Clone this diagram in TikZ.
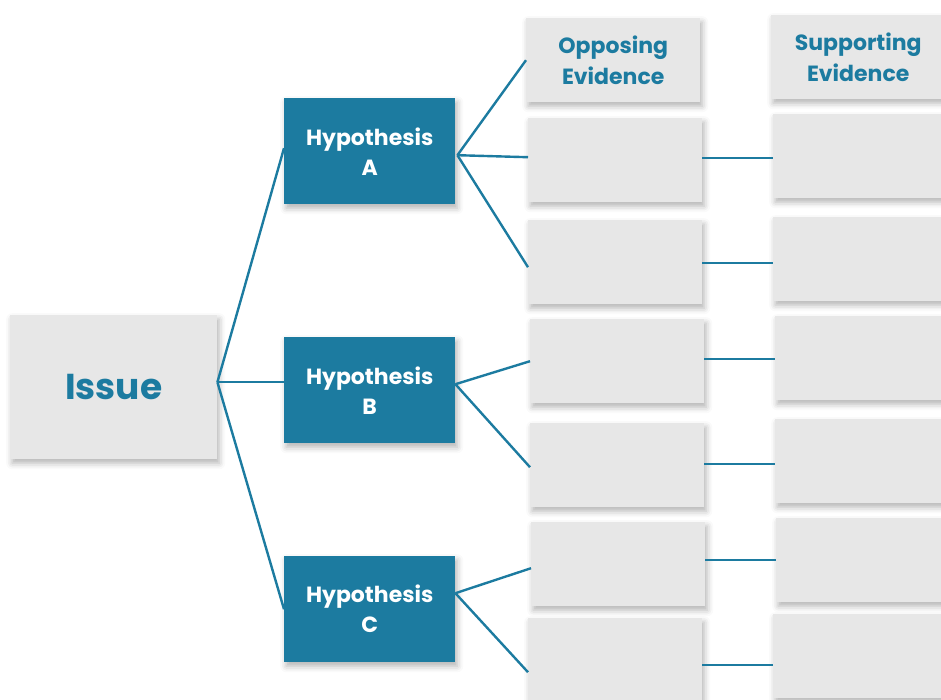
\documentclass[tikz,border=0pt]{standalone}
\usepackage{fontspec}
\setmainfont{Poppins}
\usetikzlibrary{shadows.blur}
\definecolor{brandteal}{HTML}{1C7BA0}
\definecolor{boxgray}{HTML}{E7E7E7}
\tikzset{
  softshadow/.style={blur shadow={shadow xshift=2pt, shadow yshift=-4pt, shadow blur radius=6pt, shadow opacity=30}},
  graybox/.style={fill=boxgray, softshadow, draw=none, inner sep=0pt, anchor=north west,
    minimum width=174pt, minimum height=84pt, text=brandteal, align=center,
    font=\bfseries\fontsize{22}{31}\selectfont},
  hypbox/.style={fill=brandteal, softshadow, draw=none, inner sep=0pt, anchor=north west,
    minimum width=171pt, minimum height=106pt, text=white, align=center,
    font=\bfseries\fontsize{22}{30}\selectfont},
  issuebox/.style={graybox, minimum width=207pt, minimum height=144pt,
    font=\bfseries\fontsize{36}{44}\selectfont},
  link/.style={draw=brandteal, line width=2.4pt}
}
\begin{document}
\begin{tikzpicture}[x=1pt, y=-1pt]
  \useasboundingbox (0,0) rectangle (941,699);

  % root issue
  \node[issuebox] (issue) at (10,315) {Issue};

  % hypotheses
  \node[hypbox] (hA) at (284,98)  {Hypothesis\\A};
  \node[hypbox] (hB) at (284,337) {Hypothesis\\B};
  \node[hypbox] (hC) at (284,556) {Hypothesis\\C};

  % column headers
  \node[graybox] (oHead) at (526,18) {Opposing\\Evidence};
  \node[graybox] (sHead) at (771,15) {Supporting\\Evidence};

  % opposing evidence boxes
  \node[graybox] (oA1) at (528,118) {};
  \node[graybox] (oA2) at (528,220) {};
  \node[graybox] (oB1) at (530,319) {};
  \node[graybox] (oB2) at (530,423) {};
  \node[graybox] (oC1) at (531,522) {};
  \node[graybox] (oC2) at (528,618) {};

  % supporting evidence boxes
  \node[graybox] (sA1) at (773,114) {};
  \node[graybox] (sA2) at (773,217) {};
  \node[graybox] (sB1) at (775,316) {};
  \node[graybox] (sB2) at (775,419) {};
  \node[graybox] (sC1) at (776,518) {};
  \node[graybox] (sC2) at (773,614) {};

  % fan points
  \coordinate (fI) at ([yshift=5pt]issue.east);
  \coordinate (fA) at ([xshift=2pt,yshift=-4pt]hA.east);
  \coordinate (fB) at ([yshift=6pt]hB.east);
  \coordinate (fC) at ([yshift=16pt]hC.east);

  % issue to hypotheses
  \draw[link] (fI) -- ([yshift=3pt]hA.west);
  \draw[link] (fI) -- (fI -| hB.west);
  \draw[link] (fI) -- (hC.west);

  % hypotheses to opposing evidence
  \draw[link] (fA) -- (oHead.west);
  \draw[link] (fA) -- ([yshift=3pt]oA1.west);
  \draw[link] (fA) -- ([yshift=-5pt]oA2.west);
  \draw[link] (fB) -- (oB1.west);
  \draw[link] (fB) -- ([yshift=-2pt]oB2.west);
  \draw[link] (fC) -- ([yshift=-4pt]oC1.west);
  \draw[link] (fC) -- ([yshift=-12pt]oC2.west);

  % opposing to supporting evidence
  \draw[link] ([yshift=2pt]oA1.east) -- ([yshift=2pt]oA1.east -| sA1.west);
  \draw[link] ([yshift=-1pt]oA2.east) -- ([yshift=-1pt]oA2.east -| sA2.west);
  \draw[link] ([yshift=2pt]oB1.east) -- ([yshift=2pt]oB1.east -| sB1.west);
  \draw[link] ([yshift=1pt]oB2.east) -- ([yshift=1pt]oB2.east -| sB2.west);
  \draw[link] ([yshift=4pt]oC1.east) -- ([yshift=4pt]oC1.east -| sC1.west);
  \draw[link] ([yshift=-5pt]oC2.east) -- ([yshift=-5pt]oC2.east -| sC2.west);
\end{tikzpicture}
\end{document}
